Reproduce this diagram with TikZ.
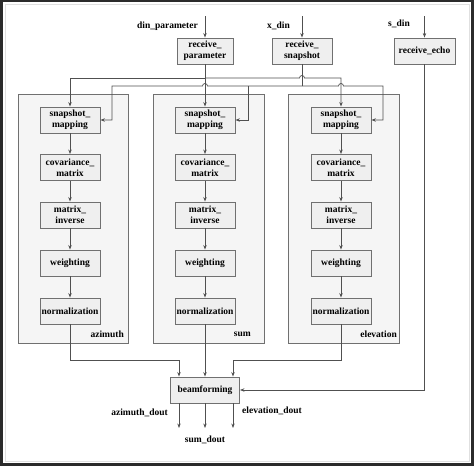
\documentclass[tikz,border=0pt]{standalone}
\usepackage{fontspec}
\setmainfont{Liberation Serif}
\usetikzlibrary{arrows.meta}
\definecolor{wirecol}{HTML}{505050}
\definecolor{boxline}{HTML}{707070}
\definecolor{boxfill}{HTML}{EFEFEF}
\definecolor{grpfill}{HTML}{F5F5F5}
\definecolor{framecol}{HTML}{2B2B2B}

\begin{document}
\begin{tikzpicture}[x=1pt,y=-1pt,>={Stealth[length=4.5pt,width=3.4pt]},
      font=\fontsize{9.5}{11}\selectfont\bfseries,
      blk/.style={rectangle,draw=boxline,fill=boxfill,line width=0.9pt,minimum width=60pt,minimum height=26pt,inner sep=1pt,align=center},
      grp/.style={rectangle,draw=boxline,fill=grpfill,line width=0.8pt,minimum width=111pt,minimum height=249pt},
      wire/.style={draw=wirecol,line width=0.7pt},
      lbl/.style={inner sep=1pt}]
      \useasboundingbox (0,0) rectangle (474,466);
      \fill [framecol] (0,0) rectangle (474,466);
      \fill [white] (3,2) rectangle (471,463);
      \draw [black!12,line width=0.6pt] (5,4) rectangle (469,461);
      \node (azgrp) at (73,218.5) [grp,minimum width=110pt] {};
      \node (sumgrp) at (208.5,218.5) [grp] {};
      \node (elgrp) at (343.5,218.5) [grp] {};
      \node (azlbl) at (125,334) [lbl,anchor=east] {azimuth};
      \node (sumlbl) at (252,334) [lbl,anchor=east] {sum};
      \node (ellbl) at (398,334) [lbl,anchor=east] {elevation};
      \node (recpar) at (205,51) [blk,minimum width=56pt] {receive\_\\parameter};
      \node (recsnap) at (302,51) [blk] {receive\_\\snapshot};
      \node (rececho) at (424.5,51) [blk,minimum width=61pt] {receive\_echo};
      \coordinate (inpar) at (205,16);
      \coordinate (insnap) at (302,16);
      \coordinate (inecho) at (424.5,16);
      \node (lblpar) at (199,26) [lbl,anchor=east] {din\_parameter};
      \node (lblsnap) at (291,26) [lbl,anchor=east] {x\_din};
      \node (lblecho) at (411,24) [lbl,anchor=east] {s\_din};
      \node (azsnap) at (70,120) [blk] {snapshot\_\\mapping};
      \node (azcov) at (70,167.5) [blk] {covariance\_\\matrix};
      \node (azinv) at (70,215) [blk] {matrix\_\\inverse};
      \node (azwgt) at (70,263) [blk] {weighting};
      \node (aznorm) at (70,311) [blk] {normalization};
      \node (sumsnap) at (205,120) [blk] {snapshot\_\\mapping};
      \node (sumcov) at (205,167.5) [blk] {covariance\_\\matrix};
      \node (suminv) at (205,215) [blk] {matrix\_\\inverse};
      \node (sumwgt) at (205,263) [blk] {weighting};
      \node (sumnorm) at (205,311) [blk] {normalization};
      \node (elsnap) at (341,120) [blk] {snapshot\_\\mapping};
      \node (elcov) at (341,167.5) [blk] {covariance\_\\matrix};
      \node (elinv) at (341,215) [blk] {matrix\_\\inverse};
      \node (elwgt) at (341,263) [blk] {weighting};
      \node (elnorm) at (341,311) [blk] {normalization};
      \node (beam) at (205,390) [blk,minimum width=69pt] {beamforming};
      \coordinate (parbus) at (205,78);
      \coordinate (snapbus) at (302,86);
      \coordinate (sumtap) at (248,86);
      \coordinate (azout) at (179,428);
      \coordinate (sumout) at (205,428);
      \coordinate (elout) at (233,428);
      \node (lblazout) at (169,413) [lbl,anchor=east] {azimuth\_dout};
      \node (lblsumout) at (205,440) [lbl] {sum\_dout};
      \node (lblelout) at (241,411) [lbl,anchor=west] {elevation\_dout};
      \draw [wire,->] (inpar) to (recpar);
      \draw [wire,->] (insnap) to (recsnap);
      \draw [wire,->] (inecho) to (rececho);
      \draw [wire,->] (recpar) to (sumsnap);
      \draw [wire,->] (parbus) -| (azsnap);
      \draw [wire,->] (parbus) -- (299.5,78) arc [start angle=180,end angle=0,radius=2.5pt] -| (elsnap);
      \draw [wire] (recsnap) to (snapbus);
      \draw [wire,->] (snapbus) -- (207.5,86) arc [start angle=0,end angle=180,radius=2.5pt] -- (112,86) |- (azsnap);
      \draw [wire,->] (sumtap) |- (sumsnap);
      \draw [wire,->] (snapbus) -- (338.5,86) arc [start angle=180,end angle=0,radius=2.5pt] -- (383,86) |- (elsnap);
      \draw [wire,->] (azsnap) to (azcov);
      \draw [wire,->] (azcov) to (azinv);
      \draw [wire,->] (azinv) to (azwgt);
      \draw [wire,->] (azwgt) to (aznorm);
      \draw [wire,->] (sumsnap) to (sumcov);
      \draw [wire,->] (sumcov) to (suminv);
      \draw [wire,->] (suminv) to (sumwgt);
      \draw [wire,->] (sumwgt) to (sumnorm);
      \draw [wire,->] (elsnap) to (elcov);
      \draw [wire,->] (elcov) to (elinv);
      \draw [wire,->] (elinv) to (elwgt);
      \draw [wire,->] (elwgt) to (elnorm);
      \draw [wire,->] (aznorm) -- (70,360) -| ([xshift=-26pt]beam.north);
      \draw [wire,->] (sumnorm) to (beam);
      \draw [wire,->] (elnorm) -- (341,360) -| ([xshift=28pt]beam.north);
      \draw [wire,->] (rececho) |- (beam);
      \draw [wire,->] ([xshift=-26pt]beam.south) -- (azout);
      \draw [wire,->] (beam) to (sumout);
      \draw [wire,->] ([xshift=28pt]beam.south) -- (elout);
    \end{tikzpicture}
\end{document}
